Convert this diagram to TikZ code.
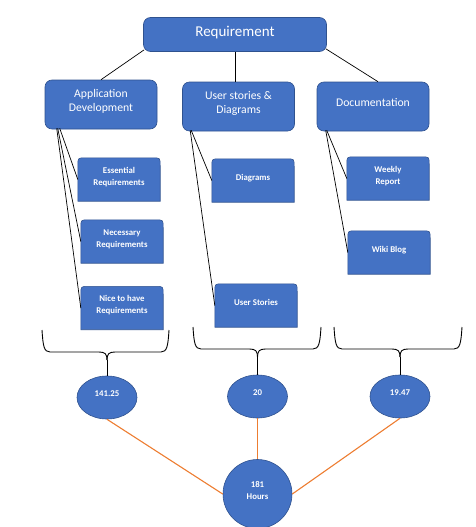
\documentclass[tikz,border=0pt]{standalone}
\usepackage{fontspec}
\setmainfont{Carlito}
\usetikzlibrary{shapes.geometric,backgrounds,calc}
\definecolor{boxblue}{HTML}{4472C4}
\definecolor{boxline}{HTML}{2F528F}
\definecolor{linkorange}{HTML}{ED7D31}
\newcommand\tabfill[1]{\filldraw[tabshape] (#1.south west) -- ($(#1.north west)+(0,8)$) .. controls (#1.north west) .. ($(#1.north west)+(8,0)$) -- ($(#1.north east)+(-8,0)$) .. controls (#1.north east) .. ($(#1.north east)+(0,8)$) -- (#1.south east) -- cycle;}
\newcommand\curlybrace[6]{%
 \draw[bracestyle] (#1,#4) .. controls (#1+1,#5-6) and (#1+2,#5) .. (#1+8,#5) -- (#3-8,#5) .. controls (#3-2,#5) and (#3,#5+2) .. (#3,#5+8);
 \draw[bracestyle] (#2,#4) .. controls (#2-1,#5-6) and (#2-2,#5) .. (#2-8,#5) -- (#3+8,#5) .. controls (#3+2,#5) and (#3,#5+2) .. (#3,#5+8);
 \coordinate (#6) at (#3,#5+8);}
\begin{document}
\begin{tikzpicture}[x=1pt,y=-1pt,
  topbox/.style={rectangle, rounded corners=7pt, fill=boxblue, draw=boxline, line width=0.6pt, text=white, align=center, inner sep=0pt, minimum width=112pt, minimum height=49pt, text depth=8.5pt, font=\fontsize{11.7}{14.5}\selectfont},
  childbox/.style={rectangle, text=white, align=center, inner sep=0pt, minimum width=82pt, minimum height=43pt, text depth=6.5pt, font=\fontsize{8.8}{12}\selectfont\bfseries},
  tabshape/.style={fill=boxblue, draw=boxline, line width=0.6pt},
  valnode/.style={ellipse, fill=boxblue, draw=boxline, line width=0.6pt, text=white, inner sep=0pt, minimum width=60pt, minimum height=43pt, align=center, text depth=8pt, font=\fontsize{8.8}{12}\selectfont\bfseries},
  link/.style={draw=black, line width=0.7pt},
  bracestyle/.style={draw=black, line width=0.9pt},
  orangelink/.style={draw=linkorange, line width=1.1pt}]

\useasboundingbox (0,0) rectangle (475,527);

% top level
\node[topbox, minimum width=183pt, minimum height=34pt, text depth=6pt, font=\fontsize{15}{18}\selectfont] (req) at (235,34.5) {Requirement};
\node[topbox] (ad) at (101,104.5) {Application\\Development};
\node[topbox] (us) at (238.5,106.5) {User stories \&\\Diagrams};
\node[topbox] (doc) at (373,106.5) {Documentation};

% children
\node[childbox] (ess) at (119,179.5) {Essential\\Requirements};
\node[childbox] (nec) at (122,241.5) {Necessary\\Requirements};
\node[childbox] (nice) at (122,308) {Nice to have\\Requirements};
\node[childbox] (dia) at (253,180.5) {Diagrams};
\node[childbox] (ust) at (256,305.5) {User Stories};
\node[childbox] (wr) at (388,178.5) {Weekly\\Report};
\node[childbox] (wiki) at (389,252.5) {Wiki Blog};

\begin{pgfonlayer}{background}
  \foreach \n in {ess,nec,nice,dia,ust,wr,wiki} {\tabfill{\n}}
\end{pgfonlayer}

% top connectors
\draw[link] ($(req.south west)+(1,-2)$) -- (ad.north);
\draw[link] (req.south) -- (req.south |- us.north);
\draw[link] ($(req.south east)+(-1,-3)$) -- ($(doc.north)+(5,0)$);

% child connectors
\draw[link] ($(ad.south west)+(15,-1)$) -- (ess.west);
\draw[link] ($(ad.south west)+(13,-1)$) -- (nec.west);
\draw[link] ($(ad.south west)+(12,-1)$) -- (nice.west);
\draw[link] ($(us.south west)+(9,-1)$) -- (dia.west);
\draw[link] ($(us.south west)+(8,-1)$) -- (ust.west);
\draw[link] ($(doc.south west)+(10,-1)$) -- (wr.west);
\draw[link] ($(doc.south west)+(9,-1)$) -- (wiki.west);

% braces
\curlybrace{42}{169}{107}{330}{352}{b1}
\curlybrace{193}{321}{257.5}{327}{349}{b2}
\curlybrace{334}{462}{400}{327}{349}{b3}

% values
\node[valnode] (v1) at (107,397.5) {141.25};
\node[valnode] (v2) at (257.5,396.5) {20};
\node[valnode] (v3) at (400,396.5) {19.47};
\node[valnode, circle, minimum size=69pt] (tot) at (257.5,494) {181\\Hours};

\draw[bracestyle] (b1) -- (v1.north);
\draw[bracestyle] (b2) -- (v2.north);
\draw[bracestyle] (b3) -- (v3.north);

\draw[orangelink] (v1.south) -- (tot.west);
\draw[orangelink] (v2.south) -- (tot.north);
\draw[orangelink] (v3.south) -- (tot.east);
\end{tikzpicture}
\end{document}
